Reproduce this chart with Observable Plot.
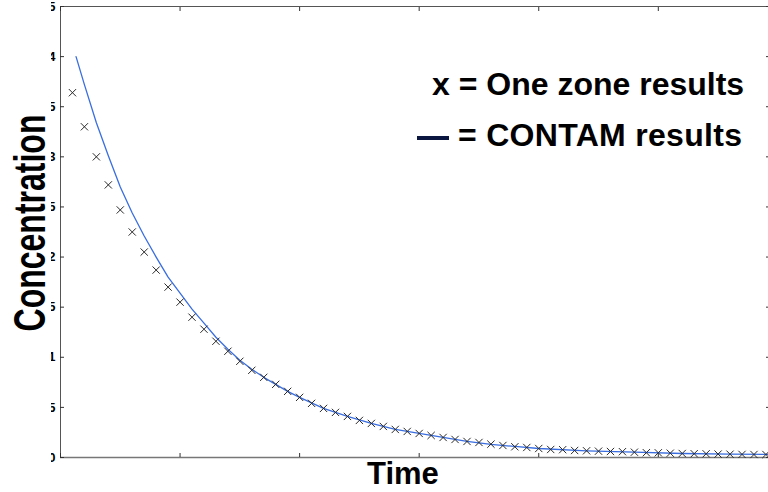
<!DOCTYPE html>
<html>
<head>
<meta charset="utf-8">
<script src="https://cdn.jsdelivr.net/npm/d3@7"></script>
<script src="https://cdn.jsdelivr.net/npm/@observablehq/plot@0.6"></script>
<style>
  html, body { margin: 0; padding: 0; background: #fff; }
  #wrap { position: relative; width: 768px; height: 492px; overflow: hidden; background: #fff;
          font-family: "Liberation Sans", Arial, Helvetica, sans-serif; }
  #wrap svg { position: absolute; left: 0; top: 0; }
  .lbl { position: absolute; font-weight: bold; font-size: 32px; line-height: 32px; white-space: nowrap; color: #000; }
</style>
</head>
<body>
<div id="wrap"></div>
<script>
// One zone results (crosses)
const crossT = [0.1,0.2,0.3,0.4,0.5,0.6,0.7,0.8,0.9,1.0,
                1.1,1.2,1.3,1.4,1.5,1.6,1.7,1.8,1.9,2.0,
                2.1,2.2,2.3,2.4,2.5,2.6,2.7,2.8,2.9,3.0,
                3.1,3.2,3.3,3.4,3.5,3.6,3.7,3.8,3.9,4.0,
                4.1,4.2,4.3,4.4,4.5,4.6,4.7,4.8,4.9,5.0,
                5.1,5.2,5.3,5.4,5.5,5.6,5.7,5.8,5.9];
const crossV = [3.64,3.30,3.00,2.72,2.47,2.25,2.05,1.87,1.70,1.55,
                1.40,1.28,1.16,1.06,0.96,0.87,0.80,0.73,0.66,0.60,
                0.54,0.49,0.45,0.41,0.37,0.34,0.31,0.28,0.26,0.24,
                0.22,0.20,0.18,0.16,0.15,0.133,0.12,0.107,0.10,0.09,
                0.08,0.078,0.07,0.067,0.063,0.06,0.058,0.053,0.048,0.047,
                0.043,0.04,0.038,0.037,0.034,0.033,0.031,0.030,0.030];
// CONTAM results (line)
const lineT = [0.13,0.2,0.3,0.4,0.5,0.6,0.7,0.8,0.9,1.0,1.1,1.2,1.3,1.4,1.5,1.6,1.7,1.8,1.9,2.0,
               2.2,2.4,2.6,2.8,3.0,3.2,3.4,3.6,3.8,4.0,4.4,4.8,5.2,5.6,5.95];
const lineV = [4.00,3.72,3.34,3.01,2.70,2.44,2.21,2.00,1.80,1.64,1.48,1.34,1.20,1.08,0.97,0.88,0.80,0.73,0.66,0.60,
               0.49,0.41,0.34,0.28,0.24,0.20,0.16,0.13,0.11,0.09,0.067,0.053,0.04,0.033,0.03];
// Axis ticks
const yTicks = [0,0.5,1,1.5,2,2.5,3,3.5,4,4.5];
const yTickLabels = ["0","0.5","1","1.5","2","2.5","3","3.5","4","4.5"];
const xTicks = [0,1,2,3,4,5];

const crosses = crossT.map((t, i) => ({t, v: crossV[i]}));
const line = lineT.map((t, i) => ({t, v: lineV[i]}));
const blank = () => "";

const chart = Plot.plot({
  width: 772,
  height: 492,
  marginLeft: 60,
  marginRight: 3,
  marginTop: 6,
  marginBottom: 35,
  style: "max-width:none;overflow:visible;background:transparent;font-family:'Liberation Sans',Arial,sans-serif;",
  x: {domain: [0, 5.93], axis: null},
  y: {domain: [0, 4.5], axis: null},
  marks: [
    Plot.frame({stroke: "#555", strokeWidth: 1}),
    Plot.ruleY([0], {stroke: "#777", strokeWidth: 1.6}),
    Plot.axisY(yTicks, {anchor: "left", tickSize: 4, dx: 4, tickFormat: blank, label: null, stroke: "#333"}),
    Plot.axisY(yTicks, {anchor: "right", tickSize: 4, dx: -4, tickFormat: blank, label: null, stroke: "#333"}),
    Plot.axisY(yTicks, {anchor: "left", tickSize: 0, tickPadding: 5,
                        tickFormat: (d) => yTickLabels[yTicks.indexOf(d)],
                        fontSize: 13, fontWeight: "bold", label: null, fill: "#000"}),
    Plot.axisX(xTicks, {anchor: "bottom", tickSize: 4, dy: -4, tickFormat: blank, label: null, stroke: "#333"}),
    Plot.axisX(xTicks, {anchor: "top", tickSize: 4, dy: 4, tickFormat: blank, label: null, stroke: "#333"}),
    Plot.line(line, {x: "t", y: "v", stroke: "#3a6ee0", strokeWidth: 1.3}),
    Plot.dot(crosses, {x: "t", y: "v", symbol: "times", r: 3.4, stroke: "#2a2a2a", strokeWidth: 1})
  ]
});

const wrap = document.getElementById("wrap");
wrap.appendChild(chart);

// White strip that crops the tick labels, with the rotated y title on top
const cover = document.createElement("div");
cover.style.cssText = "position:absolute;left:0;top:0;width:51px;height:492px;background:#fff;";
wrap.appendChild(cover);

const ylab = document.createElement("div");
ylab.className = "lbl";
ylab.textContent = "Concentration";
ylab.style.cssText += "left:30px;top:223px;transform:translate(-50%,-50%) rotate(-90deg) scale(1,1.4);";
wrap.appendChild(ylab);

const xlab = document.createElement("div");
xlab.className = "lbl";
xlab.textContent = "Time";
xlab.style.cssText += "left:367px;top:458px;font-size:31px;line-height:31px;";
wrap.appendChild(xlab);

const leg1 = document.createElement("div");
leg1.className = "lbl";
leg1.textContent = "x = One zone results";
leg1.style.cssText += "left:432px;top:68px;";
wrap.appendChild(leg1);

const dash = document.createElement("div");
dash.style.cssText = "position:absolute;left:417px;top:136px;width:32px;height:4px;background:#0b1640;";
wrap.appendChild(dash);

const leg2 = document.createElement("div");
leg2.className = "lbl";
leg2.textContent = "= CONTAM results";
leg2.style.cssText += "left:458px;top:119px;letter-spacing:0.3px;";
wrap.appendChild(leg2);
</script>
</body>
</html>
